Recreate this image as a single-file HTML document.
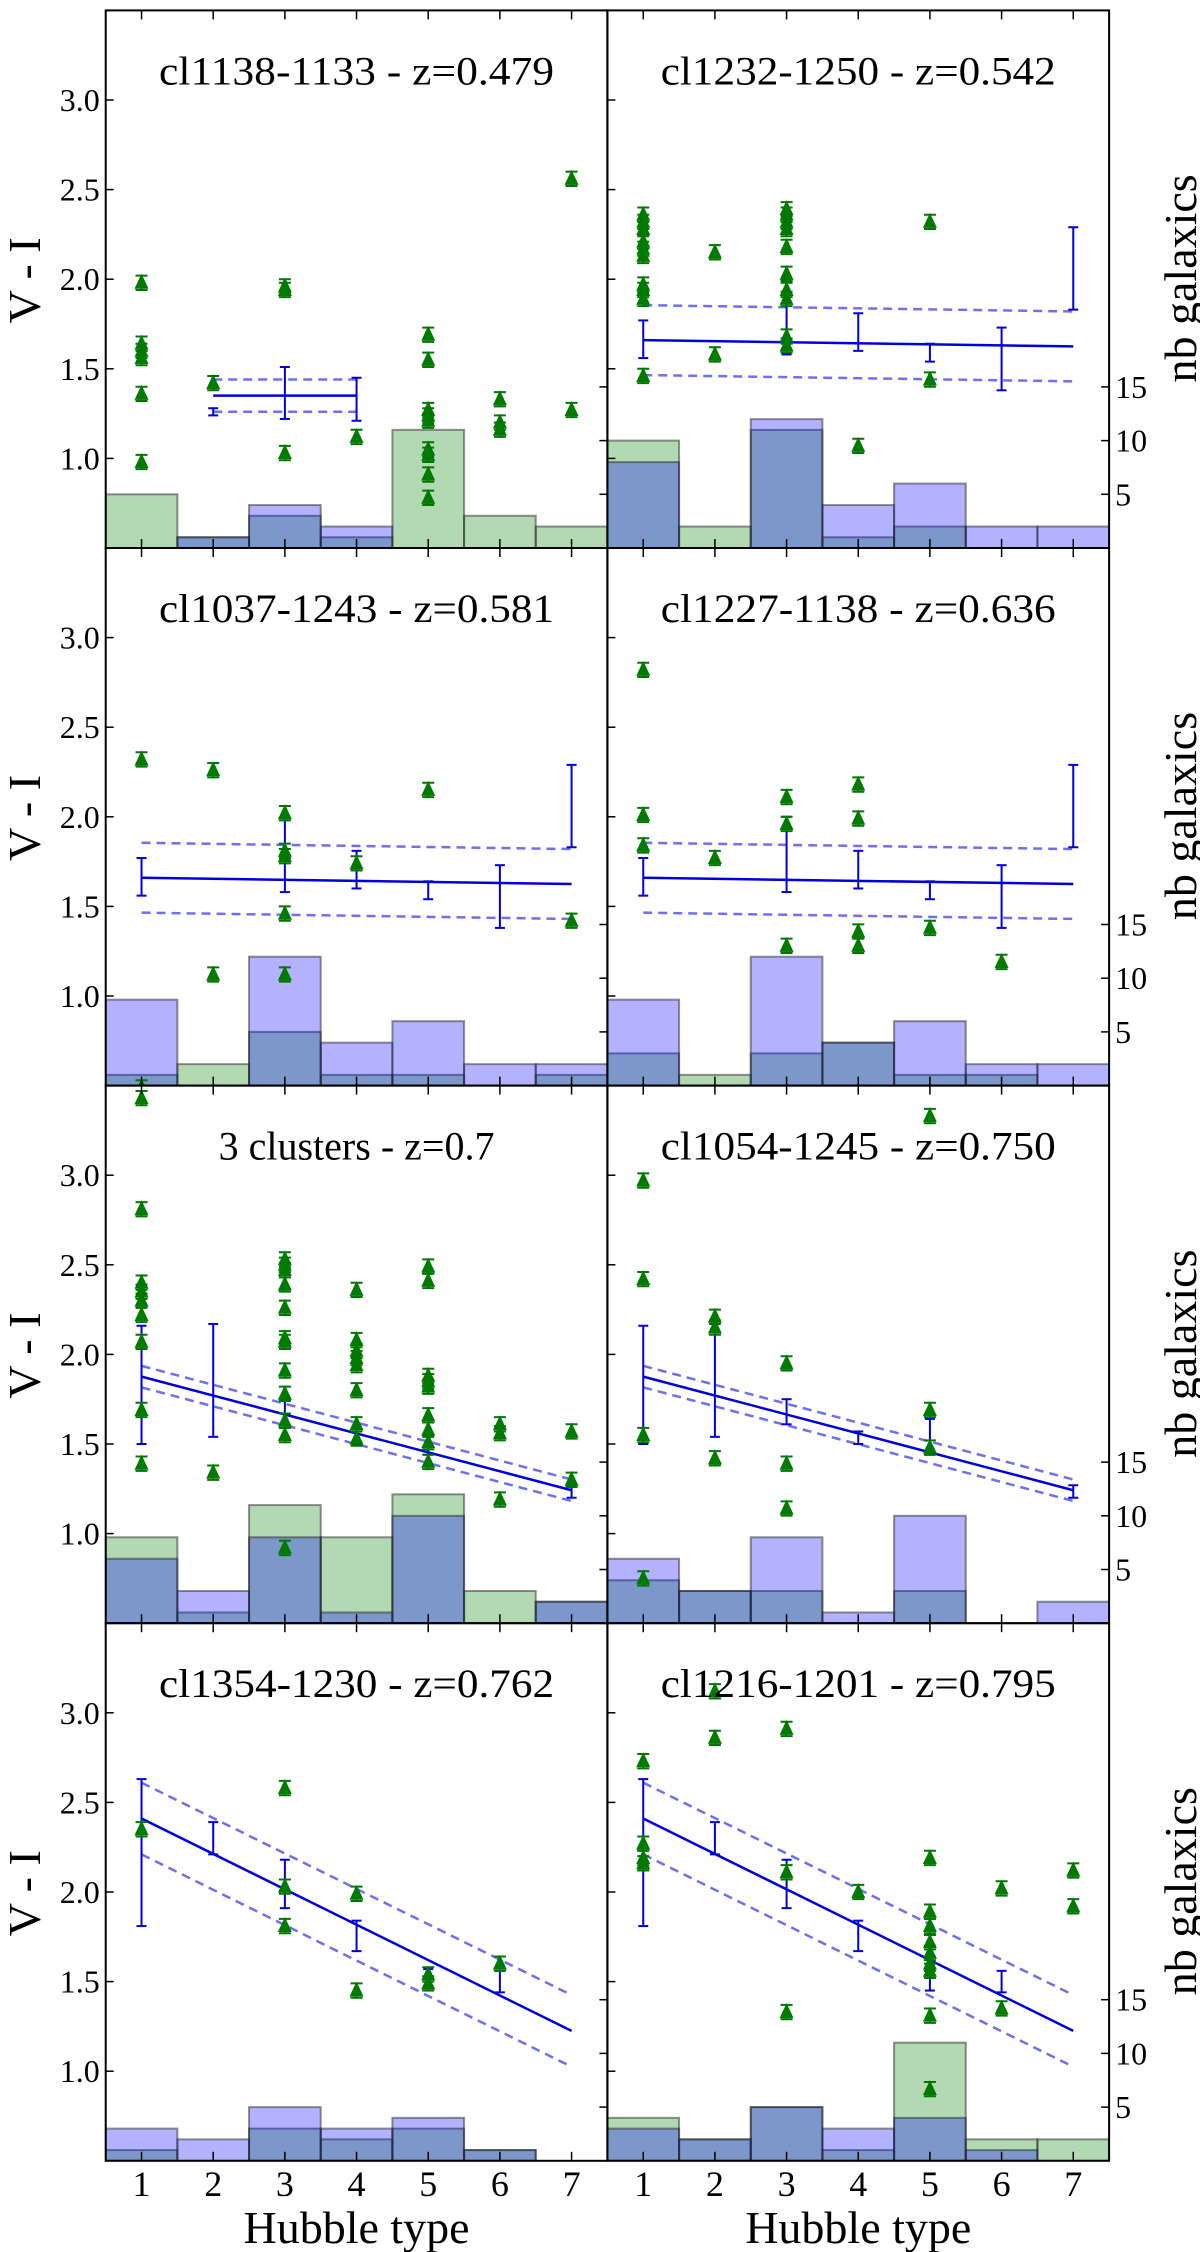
<!DOCTYPE html>
<html><head><meta charset="utf-8"><style>
html,body{margin:0;padding:0;background:#fff}
svg{display:block}
text{font-family:"Liberation Serif",serif;fill:#000}
</style></head><body>
<svg id="fig" width="1200" height="2252" viewBox="0 0 1200 2252" xmlns="http://www.w3.org/2000/svg"></svg>
<script>
const titles = ["cl1138-1133 - z=0.479","cl1232-1250 - z=0.542","cl1037-1243 - z=0.581","cl1227-1138 - z=0.636","3 clusters - z=0.7","cl1054-1245 - z=0.750","cl1354-1230 - z=0.762","cl1216-1201 - z=0.795"];
const hubbleTicks = [1,2,3,4,5,6,7];
const colorTicks = [1.0,1.5,2.0,2.5,3.0];
const colorTickLabels = ["1.0","1.5","2.0","2.5","3.0"];
const countTicks = [5,10,15];

// green points [hubble type, V-I]
const p1Points = [[1,1.98],[1,1.64],[1,1.60],[1,1.56],[1,1.36],[1,0.98],[2,1.42],[3,1.96],[3,1.94],[3,1.03],[4,1.12],[5,1.69],[5,1.55],[5,1.27],[5,1.24],[5,1.21],[5,1.05],[5,1.02],[5,0.91],[5,0.78],[6,1.33],[6,1.20],[6,1.16],[7,2.56],[7,1.27]];
const p2Points = [[1,2.36],[1,2.32],[1,2.28],[1,2.21],[1,2.17],[1,2.13],[1,1.97],[1,1.94],[1,1.89],[1,1.46],[2,2.15],[2,1.58],[3,2.39],[3,2.36],[3,2.32],[3,2.28],[3,2.18],[3,2.03],[3,1.94],[3,1.89],[3,1.68],[3,1.63],[4,1.07],[5,2.32],[5,1.44]];
const p3Points = [[1,2.32],[1,0.49],[2,2.26],[2,1.12],[3,2.02],[3,1.81],[3,1.78],[3,1.46],[3,1.12],[4,1.74],[5,2.15],[7,1.42]];
const p4Points = [[1,2.82],[1,2.01],[1,1.84],[2,1.77],[3,2.11],[3,1.96],[3,1.28],[4,2.18],[4,1.99],[4,1.36],[4,1.28],[5,1.38],[6,1.19]];
const p5Points = [[1,3.43],[1,2.81],[1,2.40],[1,2.35],[1,2.30],[1,2.22],[1,2.07],[1,1.69],[1,1.39],[2,1.34],[3,2.53],[3,2.50],[3,2.47],[3,2.39],[3,2.26],[3,2.09],[3,2.07],[3,1.91],[3,1.78],[3,1.63],[3,1.55],[3,0.92],[4,2.36],[4,2.08],[4,2.02],[4,1.98],[4,1.94],[4,1.80],[4,1.61],[4,1.53],[5,2.49],[5,2.41],[5,1.88],[5,1.85],[5,1.82],[5,1.66],[5,1.58],[5,1.51],[5,1.40],[6,1.61],[6,1.56],[6,1.19],[7,1.57],[7,1.30]];
const p6Points = [[1,2.97],[1,2.42],[1,1.55],[1,0.75],[2,2.21],[2,2.15],[2,1.42],[3,1.95],[3,1.39],[3,1.14],[5,3.33],[5,1.69],[5,1.48]];
const p7Points = [[1,2.35],[3,2.58],[3,2.03],[3,1.81],[4,1.99],[4,1.45],[5,1.54],[5,1.49],[6,1.60]];
const p8Points = [[1,2.73],[1,2.27],[1,2.19],[1,2.16],[2,3.12],[2,2.86],[3,2.91],[3,2.11],[3,1.33],[4,2.00],[5,2.19],[5,1.89],[5,1.81],[5,1.72],[5,1.66],[5,1.60],[5,1.56],[5,1.31],[5,0.90],[6,2.02],[6,1.35],[7,2.12],[7,1.92]];

// histograms, counts per Hubble type 1..7
const p1Green = [5,1,3,1,11,3,2];  const p1Blue = [0,1,4,2,0,0,0];
const p2Green = [10,2,11,1,2,0,0]; const p2Blue = [8,0,12,4,6,2,2];
const p3Green = [1,2,5,1,1,0,1];   const p3Blue = [8,0,12,4,6,2,2];
const p4Green = [3,1,3,4,1,1,0];   const p4Blue = [8,0,12,4,6,2,2];
const p5Green = [8,1,11,8,12,3,2]; const p5Blue = [6,3,8,1,10,0,2];
const p6Green = [4,3,3,0,3,0,0];   const p6Blue = [6,3,8,1,10,0,2];
const p7Green = [1,0,3,2,3,1,0];   const p7Blue = [3,2,5,3,4,1,0];
const p8Green = [4,2,5,1,11,2,2];  const p8Blue = [3,2,5,3,4,1,0];

// fits: [xStart, xEnd, value at xStart, value at xEnd, dashed offset]
const p1Fit = [2,4,1.35,1.35,0.09];
const p2Fit = [1,7,1.66,1.625,0.195];
const p5Fit = [1,7,1.876,1.242,0.06];
const p7Fit = [1,7,2.41,1.225,0.2];
// fit error bars [x, low, high]
const p1FitErr = [[2,1.24,1.28],[3,1.22,1.51],[4,1.21,1.45]];
const p2FitErr = [[1,1.56,1.77],[3,1.58,2.0],[4,1.60,1.81],[5,1.54,1.64],[6,1.38,1.73],[7,1.83,2.29]];
const p5FitErr = [[1,1.50,2.16],[2,1.54,2.17],[3,1.61,1.75],[4,1.50,1.57],[5,1.44,1.64],[7,1.20,1.27]];
const p7FitErr = [[1,1.81,2.63],[2,2.21,2.39],[3,1.91,2.18],[4,1.67,1.84],[5,1.45,1.57],[6,1.44,1.56]];

const panelPoints = [p1Points,p2Points,p3Points,p4Points,p5Points,p6Points,p7Points,p8Points];
const panelGreen = [p1Green,p2Green,p3Green,p4Green,p5Green,p6Green,p7Green,p8Green];
const panelBlue = [p1Blue,p2Blue,p3Blue,p4Blue,p5Blue,p6Blue,p7Blue,p8Blue];
const panelFit = [p1Fit,p2Fit,p2Fit,p2Fit,p5Fit,p5Fit,p7Fit,p7Fit];
const panelFitErr = [p1FitErr,p2FitErr,p2FitErr,p2FitErr,p5FitErr,p5FitErr,p7FitErr,p7FitErr];

const NS = "http://www.w3.org/2000/svg";
const svg = document.getElementById('fig');
const PW = 501.7, PH = 537.6, X0 = 105.7, Y0 = 10.4;
function mk(tag, attrs, parent){ const e=document.createElementNS(NS,tag); for(const k in attrs) e.setAttribute(k,attrs[k]); (parent||svg).appendChild(e); return e; }
const defs = mk('defs',{});

for(let i=0;i<8;i++){
  const c=i%2, r=Math.floor(i/2);
  const px = X0 + c*PW, py = Y0 + r*PH;
  const X = v => px + (v-0.5)*(PW/7);
  const Y = v => py + (3.5-v)*(PH/3);
  const C = n => py + PH - n*10.74;
  const cp = mk('clipPath',{id:'clip'+i},defs);
  mk('rect',{x:px,y:py,width:PW,height:PH},cp);
  const g = mk('g',{'clip-path':'url(#clip'+i+')'});
  
  
  const hist = (arr, fill, name) => {
    arr.forEach((n,k)=>{ if(n<=0) return;
      const rct = mk('rect',{x:X(k+0.5),y:C(n),width:PW/7,height:n*10.74,fill:fill,stroke:'rgba(40,40,40,0.5)','stroke-width':2},g);
      
      
    });
  };
  hist(panelGreen[i],'rgba(0,128,0,0.3)','green-hist');
  hist(panelBlue[i],'rgba(0,0,255,0.3)','blue-hist');
  const f = panelFit[i];
  const val = x => f[2] + (f[3]-f[2])*(x-f[0])/(f[1]-f[0]);
  [f[4],-f[4]].forEach((o,j)=>{
    const d = mk('line',{x1:X(f[0]),y1:Y(val(f[0])+o),x2:X(f[1]),y2:Y(val(f[1])+o),stroke:'#7070ee','stroke-width':2.5,'stroke-dasharray':'9,6'},g);
    
    
  });
  const fl = mk('line',{x1:X(f[0]),y1:Y(val(f[0])),x2:X(f[1]),y2:Y(val(f[1])),stroke:'#0000dd','stroke-width':2.5},g);
  
  
  panelFitErr[i].forEach(e=>{
    const eg = mk('g',{stroke:'#0000dd','stroke-width':2},g);
    
    
    mk('line',{x1:X(e[0]),y1:Y(e[1]),x2:X(e[0]),y2:Y(e[2])},eg);
    mk('line',{x1:X(e[0])-5,y1:Y(e[1]),x2:X(e[0])+5,y2:Y(e[1])},eg);
    mk('line',{x1:X(e[0])-5,y1:Y(e[2]),x2:X(e[0])+5,y2:Y(e[2])},eg);
  });
  panelPoints[i].forEach(p=>{
    const x=X(p[0]), y=Y(p[1]), e=0.04*(PH/3);
    const pg = mk('g',{},g);
    
    
    mk('path',{d:`M${x} ${y-e}V${y+e}M${x-6} ${y-e}H${x+6}M${x-6} ${y+e}H${x+6}`,stroke:'#007700','stroke-width':2,fill:'none'},pg);
    mk('path',{d:`M${x} ${y-9}L${x+7} ${y+6}L${x-7} ${y+6}Z`,fill:'#007a00'},pg);
  });
  const fr = mk('rect',{x:px,y:py,width:PW,height:PH,fill:'none',stroke:'#000','stroke-width':2});
  
  
  const tk = mk('g',{stroke:'#000','stroke-width':1.5});
  
  
  hubbleTicks.forEach(h=>{ mk('line',{x1:X(h),y1:py,x2:X(h),y2:py+9},tk); mk('line',{x1:X(h),y1:py+PH,x2:X(h),y2:py+PH-9},tk); });
  colorTicks.forEach(v=>{ mk('line',{x1:px,y1:Y(v),x2:px+8,y2:Y(v)},tk); });
  countTicks.forEach(n=>{ mk('line',{x1:px+PW,y1:C(n),x2:px+PW-8,y2:C(n)},tk); });
  const tAttrs = {x:px+PW/2,y:py+74,'text-anchor':'middle','font-size':40};
  if(titles[i].length>19){ tAttrs.textLength=395; tAttrs.lengthAdjust='spacingAndGlyphs'; }
  const t = mk('text',tAttrs);
  t.textContent = titles[i];
  
  
  if(c===0){
    colorTicks.forEach((v,k)=>{
      const l = mk('text',{x:px-6,y:Y(v)+11,'text-anchor':'end','font-size':32});
      l.textContent = colorTickLabels[k];
      
      
    });
    const yl = mk('text',{x:0,y:0,'font-size':46,'text-anchor':'middle',transform:`translate(40,${py+270}) rotate(-90)`});
    yl.textContent = 'V - I';
    
    
  } else {
    countTicks.forEach(n=>{
      const l = mk('text',{x:px+PW+6,y:C(n)+11,'font-size':32});
      l.textContent = n;
      
      
    });
    const rl = mk('text',{x:0,y:0,'font-size':46,'text-anchor':'middle',transform:`translate(1196,${py+268}) rotate(-90)`});
    rl.textContent = 'nb galaxics';
    
    
  }
  if(r===3){
    hubbleTicks.forEach(h=>{
      const l = mk('text',{x:X(h),y:py+PH+35,'text-anchor':'middle','font-size':36});
      l.textContent = h;
      
      
    });
    const xl = mk('text',{x:px+PW/2,y:py+PH+82,'text-anchor':'middle','font-size':46});
    xl.textContent = 'Hubble type';
    
    
  }
}
</script>
</body></html>
